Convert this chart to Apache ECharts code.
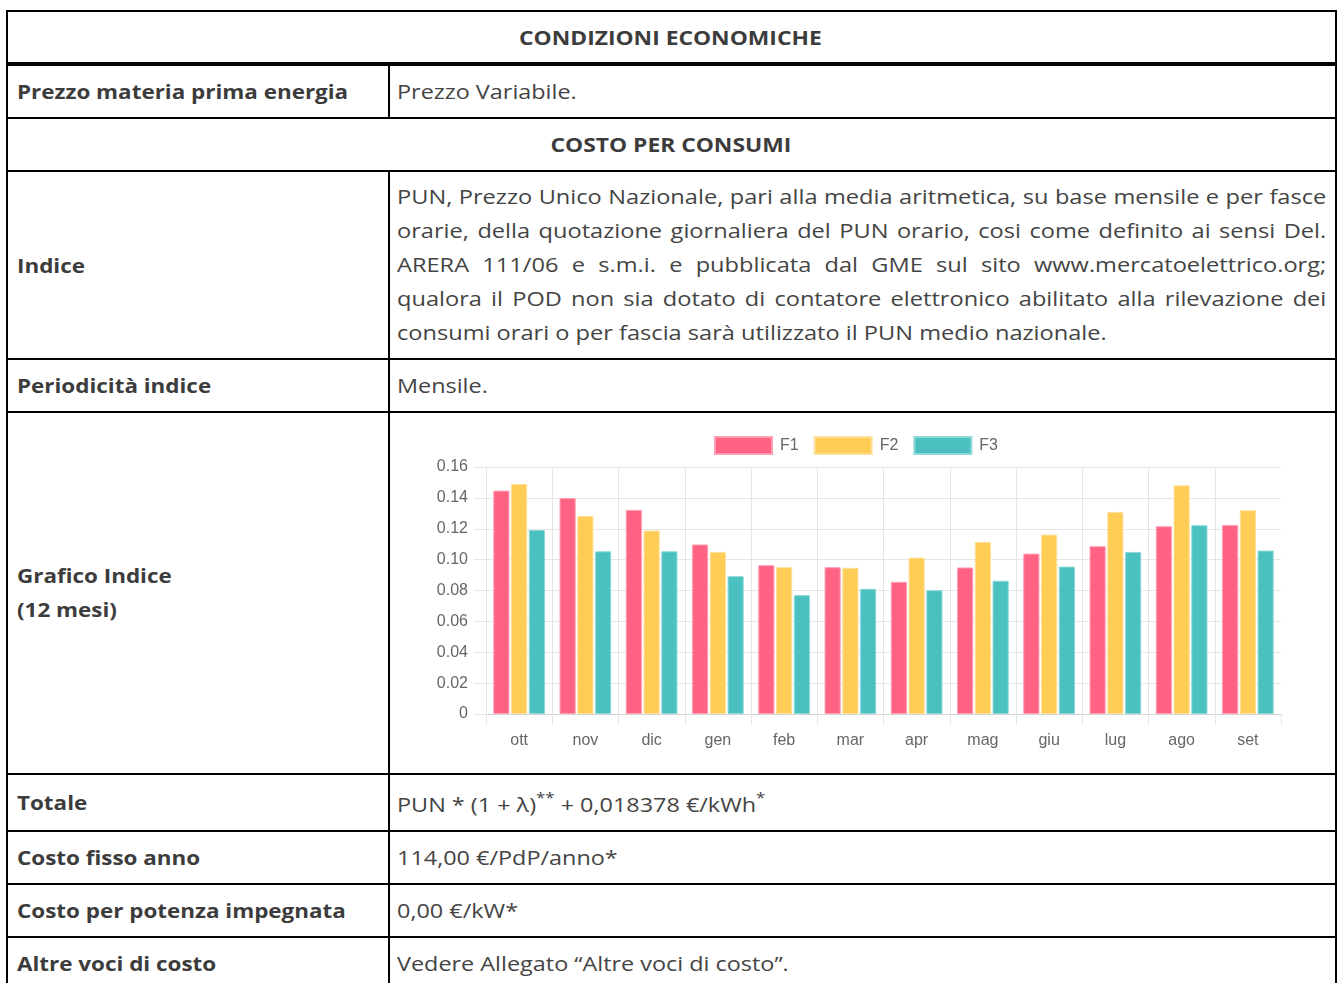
<!DOCTYPE html>
<html>
<head>
<meta charset="utf-8">
<script src="https://cdn.jsdelivr.net/npm/echarts@6/dist/echarts.min.js"></script>
<style>
    html, body { margin: 0; padding: 0; background: #fff; }
    body { width: 1338px; height: 983px; overflow: hidden; position: relative; }
    .tab {
        position: absolute; left: 6px; top: 10px; width: 1331px;
        border-collapse: collapse; table-layout: fixed;
        font-family: "Open Sans", sans-serif; font-size: 19.5px; color: #444;
    }
    .tab td { border: 2px solid #000; padding: 0 9px 0 7px; vertical-align: middle; }
    .tab td.lab { font-weight: bold; color: #3c3c3c; padding: 0 9px; }
    .tab td.head { text-align: center; font-weight: bold; color: #3c3c3c; }
    .tab tr.first td { border-bottom: 4px solid #000; }
    /* il riferimento e' stirato in orizzontale */
    .sb { display: inline-block; white-space: nowrap; transform: scaleX(1.15); transform-origin: 0 50%; }
    .sr { display: inline-block; white-space: nowrap; transform: scaleX(1.20); transform-origin: 0 50%; }
    .sh { display: inline-block; white-space: nowrap; transform: scaleX(1.17); transform-origin: 50% 50%; }
    .blocco { width: 768px; transform: scaleX(1.21); transform-origin: 0 50%; }
    .just { text-align: justify; text-align-last: justify; white-space: nowrap; line-height: 34px; }
    .last { line-height: 34px; white-space: nowrap; }
    .due { line-height: 34px; }
    sup { font-size: 14px; vertical-align: 9px; }
    #myChart { position: absolute; left: 390px; top: 414px; width: 946px; height: 358px; }
</style>
</head>
<body>
<table class="tab">
    <colgroup><col style="width:382px"><col></colgroup>
    <tr class="first" style="height:53px"><td class="head" colspan="2"><span class="sh">CONDIZIONI ECONOMICHE</span></td></tr>
    <tr style="height:54px"><td class="lab"><span class="sb">Prezzo materia prima energia</span></td><td><span class="sr">Prezzo Variabile.</span></td></tr>
    <tr style="height:53px"><td class="head" colspan="2"><span class="sh">COSTO PER CONSUMI</span></td></tr>
    <tr style="height:188px"><td class="lab"><span class="sb">Indice</span></td><td>
        <div class="blocco">
        <div class="just">PUN, Prezzo Unico Nazionale, pari alla media aritmetica, su base mensile e per fasce</div>
        <div class="just">orarie, della quotazione giornaliera del PUN orario, cosi come definito ai sensi Del.</div>
        <div class="just">ARERA 111/06 e s.m.i. e pubblicata dal GME sul sito www.mercatoelettrico.org;</div>
        <div class="just">qualora il POD non sia dotato di contatore elettronico abilitato alla rilevazione dei</div>
        <div class="last">consumi orari o per fascia sarà utilizzato il PUN medio nazionale.</div>
        </div>
    </td></tr>
    <tr style="height:53px"><td class="lab"><span class="sb">Periodicità indice</span></td><td><span class="sr">Mensile.</span></td></tr>
    <tr style="height:362px"><td class="lab"><span class="sb due">Grafico Indice<br>(12 mesi)</span></td><td></td></tr>
    <tr style="height:57px"><td class="lab"><span class="sb">Totale</span></td><td><span class="sr">PUN * (1 + λ)<sup>**</sup> + 0,018378 €/kWh<sup>*</sup></span></td></tr>
    <tr style="height:53px"><td class="lab"><span class="sb">Costo fisso anno</span></td><td><span class="sr">114,00 €/PdP/anno*</span></td></tr>
    <tr style="height:53px"><td class="lab"><span class="sb">Costo per potenza impegnata</span></td><td><span class="sr">0,00 €/kW*</span></td></tr>
    <tr style="height:53px"><td class="lab"><span class="sb">Altre voci di costo</span></td><td><span class="sr">Vedere Allegato “Altre voci di costo”.</span></td></tr>
</table>
<div id="myChart"></div>

<script>
// mesi (ott -> set)
var mesi = ['ott','nov','dic','gen','feb','mar','apr','mag','giu','lug','ago','set'];
// fasce orarie
var fasce = ['F1','F2','F3'];
// valori PUN per fascia (€/kWh)
var f1 = [0.1447,0.1399,0.1322,0.1098,0.0964,0.0951,0.0856,0.0949,0.1039,0.1087,0.1216,0.1225];
var f2 = [0.1490,0.1283,0.1188,0.1050,0.0951,0.0947,0.1013,0.1115,0.1162,0.1309,0.1481,0.1320];
var f3 = [0.1192,0.1054,0.1054,0.0893,0.0770,0.0811,0.0802,0.0863,0.0955,0.1050,0.1223,0.1059];
var colori = ['#ff6384','#ffcd56','#4bc0c0'];
var bordi = ['#ff9fb3','#ffe09a','#8fd8d8'];

var gridColor = '#e6e6e6';
var txt = '#666';

var myChart = echarts.init(document.getElementById('myChart'));
myChart.setOption({
    animation: false,
    textStyle: { fontFamily: '"Liberation Sans", Arial, sans-serif' },
    legend: {
        data: fasce,
        left: 319,
        top: 17,
        itemWidth: 57,
        itemHeight: 17,
        itemGap: 15,
        icon: 'rect',
        textStyle: { fontSize: 16, color: txt, padding: [0, 0, 0, 3] }
    },
    grid: { left: 96, top: 53, width: 795, height: 247 },
    xAxis: {
        type: 'category',
        data: mesi,
        boundaryGap: true,
        axisLine: { lineStyle: { color: '#d4d4d4', width: 1 } },
        axisTick: { show: true, length: 11, lineStyle: { color: gridColor } },
        axisLabel: { fontSize: 16, color: txt, margin: 19 },
        splitLine: { show: true, showMaxLine: false, lineStyle: { color: gridColor } }
    },
    yAxis: {
        type: 'value',
        min: 0,
        max: 0.16,
        interval: 0.02,
        axisLine: { show: true, lineStyle: { color: gridColor } },
        axisTick: { show: true, length: 12, lineStyle: { color: gridColor } },
        axisLabel: {
            fontSize: 16, color: txt, margin: 18,
            formatter: function (v) { return v === 0 ? '0' : v.toFixed(2); }
        },
        splitLine: { show: true, lineStyle: { color: gridColor } }
    },
    series: [
        { name: fasce[0], type: 'bar', data: f1, itemStyle: { color: colori[0], borderColor: bordi[0], borderWidth: 1 }, barGap: '10%', barCategoryGap: '22%' },
        { name: fasce[1], type: 'bar', data: f2, itemStyle: { color: colori[1], borderColor: bordi[1], borderWidth: 1 } },
        { name: fasce[2], type: 'bar', data: f3, itemStyle: { color: colori[2], borderColor: bordi[2], borderWidth: 1 } }
    ]
});
</script>
</body>
</html>
